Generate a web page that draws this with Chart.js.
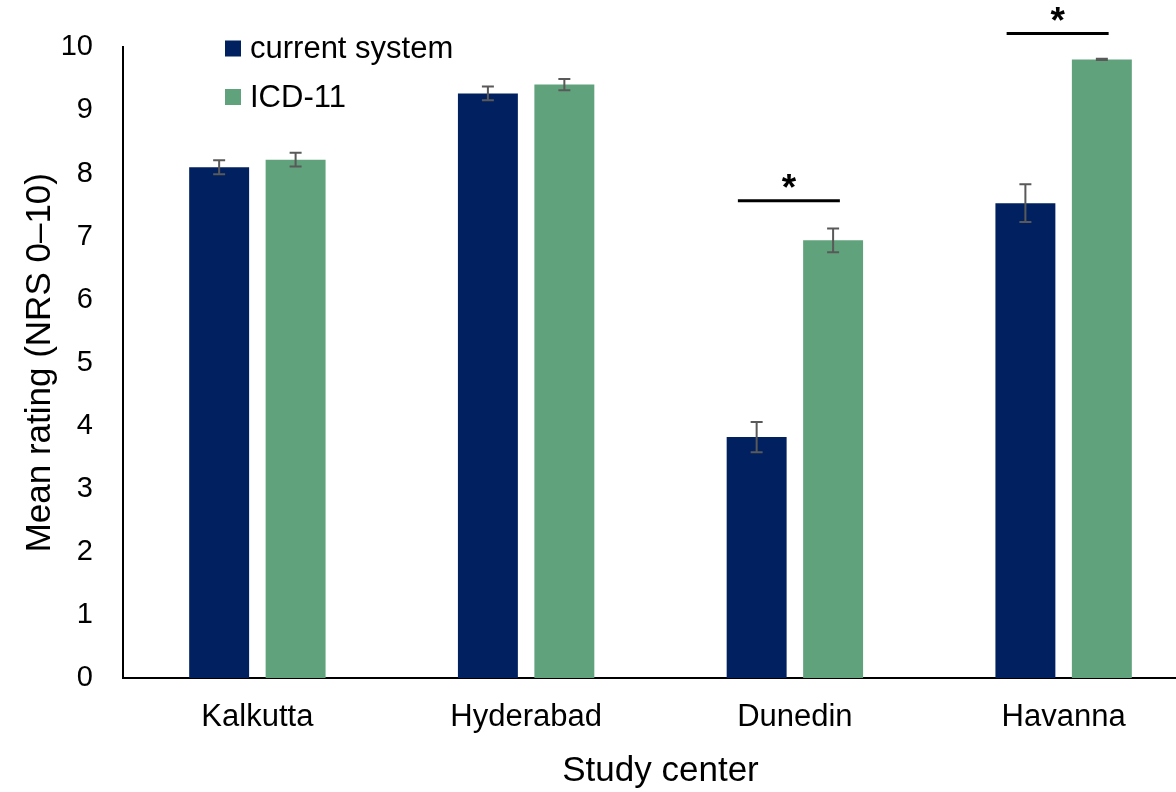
<!DOCTYPE html>
<html>
<head>
<meta charset="utf-8">
<script src="https://cdn.jsdelivr.net/npm/chart.js@4"></script>
<style>
    html, body { margin: 0; padding: 0; background: #fff; overflow: hidden; }
    #wrap { width: 1200px; height: 792px; position: relative; }
</style>
</head>
<body>
<div id="wrap"><canvas id="chart"></canvas></div>
<script>
const centers = ['Kalkutta', 'Hyderabad', 'Dunedin', 'Havanna'];
const currentMeans = [8.10, 9.27, 3.82, 7.53];
const currentErr = [0.11, 0.11, 0.24, 0.30];
const icdMeans = [8.22, 9.41, 6.94, 9.81];
const icdErr = [0.11, 0.09, 0.19, 0.01];
const yTicks = [0, 1, 2, 3, 4, 5, 6, 7, 8, 9, 10];
// significance brackets: category index and height in rating units
const sigIndex = [2, 3];
const sigLevel = [7.57, 10.22];

const FONT = '"Liberation Sans", Arial, sans-serif';
const navy = '#002060';
const green = '#60a27c';

// error bars for both datasets
const errorBars = {
    id: 'errorBars',
    afterDatasetsDraw(chart) {
        const ctx = chart.ctx;
        const y = chart.scales.y;
        const errs = [currentErr, icdErr];
        ctx.save();
        ctx.strokeStyle = '#595959';
        ctx.lineWidth = 2;
        chart.data.datasets.forEach((ds, di) => {
            chart.getDatasetMeta(di).data.forEach((bar, i) => {
                const v = ds.data[i];
                const top = y.getPixelForValue(v + errs[di][i]);
                const bot = y.getPixelForValue(v - errs[di][i]);
                ctx.beginPath();
                ctx.moveTo(bar.x, top); ctx.lineTo(bar.x, bot);
                ctx.moveTo(bar.x - 6, top); ctx.lineTo(bar.x + 6, top);
                ctx.moveTo(bar.x - 6, bot); ctx.lineTo(bar.x + 6, bot);
                ctx.stroke();
            });
        });
        ctx.restore();
    }
};

// significance lines + stars, and the legend in the top-left corner
const extras = {
    id: 'extras',
    afterDraw(chart) {
        const ctx = chart.ctx;
        const x = chart.scales.x, y = chart.scales.y;
        ctx.save();
        ctx.strokeStyle = '#000';
        ctx.fillStyle = '#000';
        ctx.lineWidth = 3;
        sigIndex.forEach((ci, k) => {
            const cx = x.getPixelForValue(ci);
            const ly = y.getPixelForValue(sigLevel[k]);
            ctx.beginPath();
            ctx.moveTo(cx - 57, ly); ctx.lineTo(cx + 45, ly);
            ctx.stroke();
            ctx.font = 'bold 37px ' + FONT;
            ctx.textAlign = 'center';
            ctx.textBaseline = 'alphabetic';
            ctx.fillText('*', cx - 6, ly - 1);
        });

        const items = [['current system', navy], ['ICD-11', green]];
        ctx.font = '31px ' + FONT;
        ctx.textAlign = 'left';
        ctx.textBaseline = 'middle';
        items.forEach((it, k) => {
            const cy = 48.5 + k * 48.5;
            ctx.fillStyle = it[1];
            ctx.fillRect(225, cy - 8, 16, 16);
            ctx.fillStyle = '#000';
            ctx.fillText(it[0], 250, cy + 1);
        });
        ctx.restore();
    }
};

new Chart(document.getElementById('chart'), {
    type: 'bar',
    data: {
        labels: centers,
        datasets: [
            { label: 'current system', data: currentMeans, backgroundColor: navy },
            { label: 'ICD-11', data: icdMeans, backgroundColor: green }
        ]
    },
    options: {
        responsive: true,
        maintainAspectRatio: false,
        animation: false,
        layout: { padding: { top: 47, right: 2, left: 0, bottom: 0 } },
        datasets: { bar: { categoryPercentage: 0.569, barPercentage: 0.784 } },
        plugins: { legend: { display: false }, tooltip: { enabled: false } },
        scales: {
            x: {
                grid: { display: false, drawTicks: false },
                border: { color: '#000', width: 2 },
                ticks: { color: '#000', font: { family: FONT, size: 31 }, padding: 21 },
                title: { display: true, text: 'Study center', color: '#000',
                    font: { family: FONT, size: 35 }, padding: { top: 0, bottom: 0 } },
                afterFit: s => { s.height = 114; }
            },
            y: {
                min: 0, max: 10,
                afterBuildTicks: s => { s.ticks = yTicks.map(v => ({ value: v })); },
                grid: { display: false, drawTicks: false },
                border: { color: '#000', width: 2 },
                ticks: { color: '#000', font: { family: FONT, size: 29 }, padding: 30 },
                title: { display: true, text: 'Mean rating (NRS 0–10)', color: '#000',
                    font: { family: FONT, size: 35 }, padding: { top: 19, bottom: 0 } },
                afterFit: s => { s.width = 123; }
            }
        }
    },
    plugins: [errorBars, extras]
});
</script>
</body>
</html>
